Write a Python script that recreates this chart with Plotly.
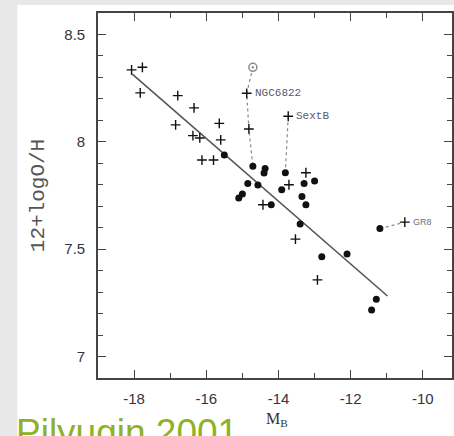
import plotly.graph_objects as go

# Absolute blue magnitude vs oxygen abundance for dwarf irregular galaxies
cross_mb = [-18.07, -17.77, -17.83, -16.79, -16.34, -16.85, -15.64, -16.37, -16.18,
            -15.60, -16.12, -15.80, -14.88, -14.82, -13.73, -13.24, -13.71, -14.43,
            -13.53, -12.92, -10.50]
cross_oh = [8.335, 8.347, 8.228, 8.215, 8.158, 8.079, 8.086, 8.029, 8.018,
            8.009, 7.915, 7.915, 8.226, 8.060, 8.119, 7.856, 7.800, 7.707,
            7.547, 7.357, 7.626]

dot_mb = [-15.50, -14.71, -14.37, -14.40, -13.81, -14.85, -14.57, -15.00, -15.10,
          -13.91, -13.29, -13.00, -13.35, -13.24, -14.20, -13.40, -12.80, -12.10,
          -11.19, -11.29, -11.42]
dot_oh = [7.939, 7.886, 7.876, 7.855, 7.856, 7.806, 7.799, 7.757, 7.738,
          7.777, 7.806, 7.817, 7.745, 7.707, 7.707, 7.617, 7.465, 7.477,
          7.596, 7.267, 7.217]

# Solar value
sun_mb = [-14.71]
sun_oh = [8.347]

# Linear fit
fit_mb = [-18.05, -10.98]
fit_oh = [8.315, 7.282]

# Links between alternative abundance estimates of the same galaxy
link_ngc6822_mb = [-14.71, -14.88, -14.82, -14.71]
link_ngc6822_oh = [8.347, 8.226, 8.060, 7.886]
link_sextb_mb = [-13.73, -13.81]
link_sextb_oh = [8.119, 7.856]
link_gr8_mb = [-11.19, -10.50]
link_gr8_oh = [7.596, 7.626]

galaxy_names = ["NGC6822", "SextB", "GR8"]
galaxy_mb = [-14.88, -13.73, -10.50]
galaxy_oh = [8.226, 8.119, 7.626]

# Axis tick labels
x_tick_vals = [-18, -16, -14, -12, -10]
x_tick_text = ["-18", "-16", "-14", "-12", "-10"]
y_tick_vals = [7, 7.5, 8, 8.5]
y_tick_text = ["7", "7.5", "8", "8.5"]

W, H = 454, 436
ML, MR, MT, MB = 98, 0, 13, 58
pw, ph = W - ML - MR, H - MT - MB


def px_x(p):
    return (p - ML) / pw


def px_y(p):
    return (H - MB - p) / ph


fig = go.Figure()

link_style = dict(color="#8a8a8a", width=1.2, dash="dot")
for lx, ly in [(link_ngc6822_mb, link_ngc6822_oh),
               (link_sextb_mb, link_sextb_oh),
               (link_gr8_mb, link_gr8_oh)]:
    fig.add_trace(go.Scatter(x=lx, y=ly, mode="lines", line=link_style,
                             hoverinfo="skip", showlegend=False))

fig.add_trace(go.Scatter(x=fit_mb, y=fit_oh, mode="lines",
                         line=dict(color="#555555", width=1.6), showlegend=False))

fig.add_trace(go.Scatter(x=cross_mb, y=cross_oh, mode="markers",
                         marker=dict(symbol="cross-thin", size=7,
                                     line=dict(color="#111111", width=1.4)),
                         showlegend=False))

fig.add_trace(go.Scatter(x=dot_mb, y=dot_oh, mode="markers",
                         marker=dict(symbol="circle", size=7, color="#111111"),
                         showlegend=False))

fig.add_trace(go.Scatter(x=sun_mb, y=sun_oh, mode="markers",
                         marker=dict(symbol="circle-dot", size=8, color="white",
                                     line=dict(color="#8a8a8a", width=1.5)),
                         showlegend=False))

for name, gx, gy in zip(galaxy_names, galaxy_mb, galaxy_oh):
    if name == "GR8":
        font = dict(family="Liberation Sans", size=9, color="#6a6f80")
    else:
        font = dict(family="Liberation Mono", size=11, color="#5a5a6a")
    fig.add_annotation(x=gx, y=gy, text=name, showarrow=False, xanchor="left",
                       yanchor="middle", xshift=6, font=font)

# Page panel and caption
fig.add_shape(type="rect", xref="paper", yref="paper",
              x0=px_x(17), x1=px_x(W + 10), y0=px_y(H + 10), y1=px_y(5),
              fillcolor="white", line=dict(width=0), layer="below")

fig.add_annotation(xref="paper", yref="paper", x=px_x(14), y=px_y(410),
                   xanchor="left", yanchor="top", showarrow=False,
                   text="Pilyugin 2001",
                   font=dict(family="Liberation Sans", size=37, color="#8db128"))

fig.add_annotation(xref="paper", yref="paper", x=px_x(278), y=px_y(419),
                   xanchor="center", yanchor="middle", showarrow=False,
                   text="M<sub>B</sub>",
                   font=dict(family="Liberation Serif", size=16, color="#333333"))

axis_common = dict(showline=True, linecolor="#444444", linewidth=1.6,
                   mirror="ticks", ticks="inside", tickcolor="#444444",
                   tickwidth=1.4, ticklen=8, showgrid=False, zeroline=False,
                   tickfont=dict(family="Liberation Sans", size=15, color="#33333f"))

fig.update_xaxes(range=[-19, -9 - 7 / 36.3],
                 tickmode="array", tickvals=x_tick_vals, ticktext=x_tick_text,
                 minor=dict(dtick=1, tick0=-19, ticklen=5, tickcolor="#444444",
                            ticks="inside"),
                 ticklabelstandoff=6, **axis_common)
fig.update_yaxes(range=[6.9, 8.6],
                 tickmode="array", tickvals=y_tick_vals, ticktext=y_tick_text,
                 minor=dict(dtick=0.1, tick0=7, ticklen=5, tickcolor="#444444",
                            ticks="inside"),
                 ticklabelstandoff=8,
                 title=dict(text="12+logO/H", standoff=14,
                            font=dict(family="Liberation Mono", size=21, color="#555555")),
                 **axis_common)

fig.update_layout(width=W, height=H, margin=dict(l=ML, r=MR, t=MT, b=MB),
                  paper_bgcolor="#e8e8e8", plot_bgcolor="white",
                  showlegend=False)

fig.write_html("out.html")
